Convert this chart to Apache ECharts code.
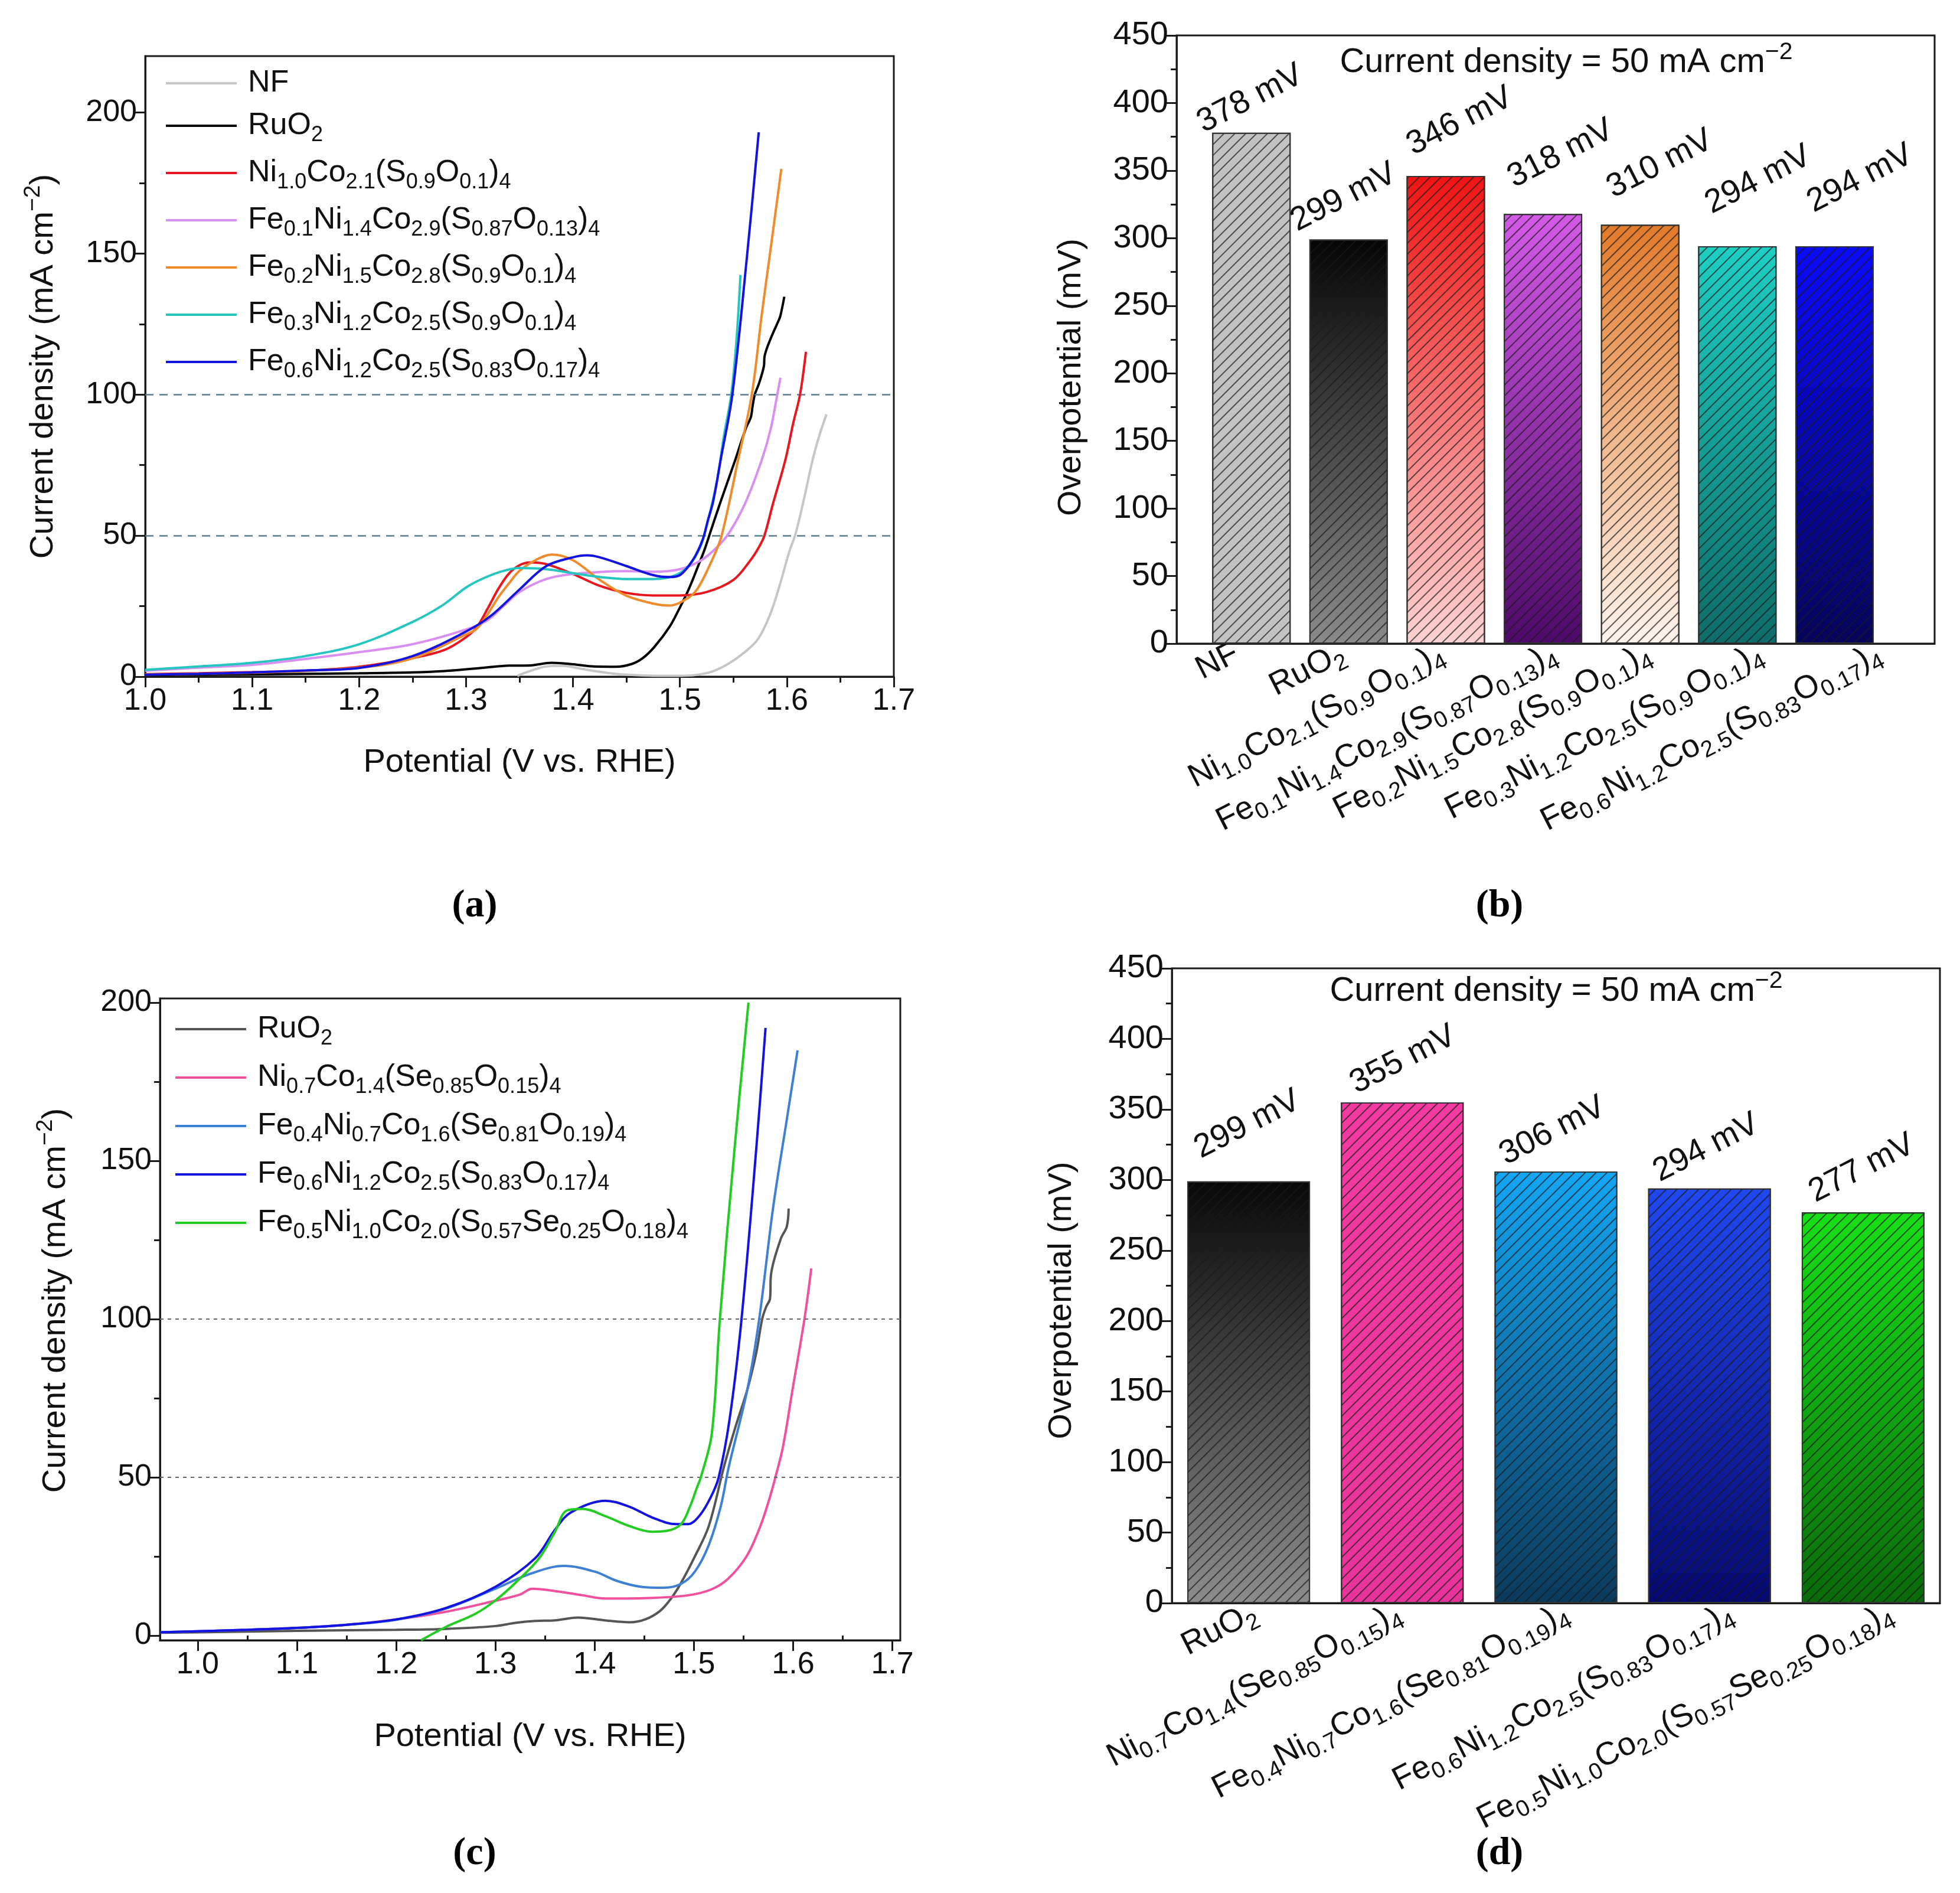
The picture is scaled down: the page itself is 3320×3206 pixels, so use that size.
<!DOCTYPE html>
<html><head><meta charset="utf-8">
<script src="https://cdn.jsdelivr.net/npm/echarts@6/dist/echarts.min.js"></script>
<style>html,body{margin:0;padding:0;background:#fff}#c{width:3320px;height:3206px}</style>
</head><body><div id="c"></div>
<script>
const FONT = 'Liberation Sans';

// ---------- Panel (a) : LSV curves ----------
const aNames = ['NF','RuO_2','Ni_1.0Co_2.1(S_0.9O_0.1)_4','Fe_0.1Ni_1.4Co_2.9(S_0.87O_0.13)_4','Fe_0.2Ni_1.5Co_2.8(S_0.9O_0.1)_4','Fe_0.3Ni_1.2Co_2.5(S_0.9O_0.1)_4','Fe_0.6Ni_1.2Co_2.5(S_0.83O_0.17)_4'];
const aColors = ['#c6c6c6','#000000','#e8161e','#d98ef2','#f08b2c','#26c6c0','#1414e0'];
const aNF = [[1.348,0.3],[1.36,2.0],[1.375,3.6],[1.39,3.8],[1.405,3.0],[1.42,2.0],[1.44,1.0],[1.46,0.5],[1.48,0.3],[1.50,0.3],[1.515,0.6],[1.53,1.8],[1.545,4.5],[1.56,8.5],[1.573,13.3],[1.584,21.7],[1.593,32.0],[1.602,44.0],[1.608,50.5],[1.615,61.3],[1.624,76.7],[1.63,85.0],[1.637,93.0]];
const aRuO2 = [[1.0,0.6],[1.05,0.7],[1.1,0.8],[1.15,1.0],[1.2,1.2],[1.25,1.5],[1.28,2.0],[1.30,2.6],[1.32,3.3],[1.34,3.9],[1.36,4.0],[1.38,4.9],[1.40,4.4],[1.42,3.6],[1.44,3.5],[1.455,4.5],[1.465,6.5],[1.476,10.5],[1.49,17.5],[1.499,23.8],[1.508,30.8],[1.517,39.2],[1.523,45.0],[1.530,53.0],[1.538,62.0],[1.5516,76.7],[1.5616,88.0],[1.5663,92.0],[1.5680,96.0],[1.5700,100.0],[1.5740,104.0],[1.5785,110.0],[1.5792,113.7],[1.5850,120.0],[1.5920,126.0],[1.5940,128.0],[1.5976,134.7]];
const aNiCo = [[1.0,0.9],[1.05,1.2],[1.1,1.6],[1.15,2.1],[1.2,3.5],[1.25,6.6],[1.28,9.5],[1.30,14.0],[1.31,17.5],[1.32,24.0],[1.33,31.0],[1.34,36.5],[1.35,39.5],[1.36,40.5],[1.375,39.9],[1.40,36.4],[1.425,32.2],[1.45,29.7],[1.475,28.8],[1.50,28.8],[1.525,30.0],[1.55,34.3],[1.566,41.3],[1.574,46.0],[1.579,50.0],[1.587,61.3],[1.5985,76.7],[1.606,90.0],[1.6123,100.0],[1.6178,115.2]];
const aFe01 = [[1.0,2.1],[1.05,3.2],[1.1,4.2],[1.15,6.3],[1.2,8.7],[1.25,11.5],[1.30,16.7],[1.32,20.0],[1.335,25.0],[1.35,30.0],[1.375,34.6],[1.40,36.4],[1.425,37.1],[1.45,37.4],[1.475,37.2],[1.50,38.1],[1.52,41.3],[1.535,46.0],[1.546,51.0],[1.5608,61.3],[1.5764,76.7],[1.585,88.0],[1.591,100.0],[1.594,106.0]];
const aFe02 = [[1.0,0.8],[1.1,1.4],[1.2,3.2],[1.25,6.5],[1.30,15.0],[1.31,17.0],[1.32,22.0],[1.33,28.0],[1.34,33.0],[1.35,37.5],[1.365,41.3],[1.38,43.3],[1.40,41.3],[1.425,34.3],[1.45,28.7],[1.475,25.9],[1.49,25.2],[1.508,28.0],[1.517,31.5],[1.53,41.3],[1.539,50.0],[1.5543,76.7],[1.5672,100.0],[1.5764,128.0],[1.586,155.0],[1.5948,180.0]];
const aFe03 = [[1.0,2.4],[1.05,3.6],[1.1,4.9],[1.15,7.3],[1.2,11.5],[1.25,19.4],[1.278,25.3],[1.30,31.6],[1.317,35.0],[1.335,37.5],[1.35,38.5],[1.375,38.1],[1.40,36.7],[1.425,35.3],[1.45,34.6],[1.475,34.6],[1.494,35.7],[1.508,39.2],[1.519,46.0],[1.526,55.0],[1.535,70.0],[1.541,85.0],[1.548,100.0],[1.553,120.0],[1.5566,142.4]];
const aFe06 = [[1.0,0.7],[1.05,1.0],[1.1,1.5],[1.15,2.2],[1.2,3.1],[1.25,7.3],[1.30,16.0],[1.323,21.5],[1.35,30.9],[1.375,39.2],[1.40,42.3],[1.413,43.0],[1.425,42.3],[1.45,39.2],[1.475,36.0],[1.49,35.3],[1.50,36.0],[1.512,41.3],[1.521,48.3],[1.526,55.2],[1.531,62.0],[1.538,76.7],[1.549,100.0],[1.5626,148.6],[1.5737,193.0]];
const aCurves = [aNF,aRuO2,aNiCo,aFe01,aFe02,aFe03,aFe06];
const aXTicks = [1.0,1.1,1.2,1.3,1.4,1.5,1.6,1.7];
const aXMinor = [1.05,1.15,1.25,1.35,1.45,1.55,1.65];
const aYTicks = [0,50,100,150,200];
const aYMinor = [25,75,125,175];
const aRefLines = [50,100];

// ---------- Panel (b) : overpotential bars ----------
const bNames = ['NF','RuO_2','Ni_1.0Co_2.1(S_0.9O_0.1)_4','Fe_0.1Ni_1.4Co_2.9(S_0.87O_0.13)_4','Fe_0.2Ni_1.5Co_2.8(S_0.9O_0.1)_4','Fe_0.3Ni_1.2Co_2.5(S_0.9O_0.1)_4','Fe_0.6Ni_1.2Co_2.5(S_0.83O_0.17)_4'];
const bPositions = [1,2,3,4,5,6,7];
const bValues = [378,299,346,318,310,294,294];
const bLabelPos = [0.85,1.94,2.96,4.12,5.09,6.24,7.46];   // where the category tick labels sit
const bTop = ['#c2c2c2','#050505','#f01414','#d45ae8','#e27a2a','#1ecfc4','#0a0aff'];
const bBottom = ['#c2c2c2','#8a8a8a','#fcd2d2','#4e0a68','#fdf3ec','#0e6c68','#05055a'];
// value-label placement (style only)
const bLabelDist = [27,44,49,55,54,63,61];
const bLabelOff = [12,5,41,48,52,54,63];

// ---------- Panel (c) : LSV curves ----------
const cNames = ['RuO_2','Ni_0.7Co_1.4(Se_0.85O_0.15)_4','Fe_0.4Ni_0.7Co_1.6(Se_0.81O_0.19)_4','Fe_0.6Ni_1.2Co_2.5(S_0.83O_0.17)_4','Fe_0.5Ni_1.0Co_2.0(S_0.57Se_0.25O_0.18)_4'];
const cColors = ['#555555','#f0509c','#3d80d4','#1414e0','#22cc22'];
const cRuO2 = [[0.962,0.9],[1.0,1.0],[1.1,1.5],[1.2,1.8],[1.25,2.1],[1.30,3.0],[1.32,4.0],[1.34,4.6],[1.36,4.8],[1.383,5.7],[1.41,4.8],[1.435,4.2],[1.451,5.1],[1.466,7.8],[1.477,11.7],[1.487,16.6],[1.501,25.0],[1.515,34.6],[1.5302,53.2],[1.541,65.0],[1.554,77.9],[1.5629,89.4],[1.5688,100.0],[1.5730,104.0],[1.5767,106.4],[1.5777,114.0],[1.5876,125.4],[1.5936,129.2],[1.5955,134.9]];
const cNiCoSe = [[0.962,1.0],[1.05,1.8],[1.1,2.4],[1.15,3.4],[1.2,5.1],[1.25,7.5],[1.30,11.0],[1.325,13.0],[1.337,14.8],[1.364,13.9],[1.388,12.7],[1.411,11.7],[1.458,11.9],[1.494,12.7],[1.517,14.5],[1.534,17.8],[1.553,25.0],[1.567,34.6],[1.576,43.1],[1.583,51.0],[1.59,60.0],[1.5995,77.9],[1.6114,100.0],[1.6183,116.0]];
const cFe04 = [[0.962,1.0],[1.05,1.8],[1.1,2.4],[1.15,3.4],[1.2,5.0],[1.25,8.5],[1.30,14.8],[1.336,19.6],[1.369,22.0],[1.40,20.2],[1.423,17.2],[1.447,15.4],[1.47,15.1],[1.487,16.3],[1.501,20.2],[1.515,28.6],[1.527,40.7],[1.5351,53.2],[1.554,77.9],[1.5658,100.0],[1.5797,134.9],[1.5936,163.0],[1.6045,184.9]];
const cFe06 = [[0.962,1.0],[1.05,1.8],[1.1,2.4],[1.15,3.4],[1.2,5.1],[1.25,8.7],[1.30,15.4],[1.34,24.4],[1.36,33.4],[1.376,38.9],[1.411,42.6],[1.435,40.7],[1.458,37.3],[1.482,35.2],[1.494,35.2],[1.506,38.0],[1.517,43.7],[1.525,50.0],[1.536,68.4],[1.548,100.0],[1.5629,154.0],[1.5722,192.0]];
const cFe05 = [[1.225,-1.5],[1.25,2.7],[1.28,6.9],[1.30,11.1],[1.32,16.6],[1.344,24.4],[1.36,32.8],[1.372,39.5],[1.388,40.0],[1.411,37.7],[1.435,34.6],[1.458,32.8],[1.473,33.1],[1.487,35.2],[1.496,40.7],[1.503,46.7],[1.507,50.0],[1.518,63.7],[1.5262,100.0],[1.541,154.0],[1.555,200.0]];
const cCurves = [cRuO2,cNiCoSe,cFe04,cFe06,cFe05];
const cXTicks = [1.0,1.1,1.2,1.3,1.4,1.5,1.6,1.7];
const cXMinor = [1.05,1.15,1.25,1.35,1.45,1.55,1.65];
const cYTicks = [0,50,100,150,200];
const cYMinor = [25,75,125,175];
const cRefLines = [50,100];

// ---------- Panel (d) : overpotential bars ----------
const dNames = ['RuO_2','Ni_0.7Co_1.4(Se_0.85O_0.15)_4','Fe_0.4Ni_0.7Co_1.6(Se_0.81O_0.19)_4','Fe_0.6Ni_1.2Co_2.5(S_0.83O_0.17)_4','Fe_0.5Ni_1.0Co_2.0(S_0.57Se_0.25O_0.18)_4'];
const dPositions = [1,2,3,4,5];
const dValues = [299,355,306,294,277];
const dLabelPos = [1.04,1.98,3.07,4.14,5.18];
const dTop = ['#080808','#f23aa0','#14a6f4','#2048f0','#18e018'];
const dBottom = ['#8c8c8c','#e8349a','#0b3a5c','#050870','#0a6a0a'];
const dLabelDist = [66,40,40,40,44];
const dLabelOff = [12,16,8,8,12];

// ---------- helpers ----------
function toRich(str){
  let out='', last=0, mm; const re=/_([0-9.]+)|\^\{([^}]*)\}/g;
  while((mm=re.exec(str))){
    if(mm.index>last) out+='{m|'+str.slice(last,mm.index)+'}';
    if(mm[1]!==undefined) out+='{s|'+mm[1]+'}'; else out+='{p|'+mm[2]+'}';
    last=re.lastIndex;
  }
  if(last<str.length) out+='{m|'+str.slice(last)+'}';
  return out;
}
function richSet(F){
  return {
    m:{fontSize:F,lineHeight:Math.round(F*1.3),fontFamily:FONT,color:'#111',verticalAlign:'middle'},
    s:{fontSize:Math.round(F*0.7),lineHeight:Math.round(F*0.7),fontFamily:FONT,color:'#111',verticalAlign:'bottom'},
    p:{fontSize:Math.round(F*0.7),lineHeight:Math.round(F*0.7),fontFamily:FONT,color:'#111',verticalAlign:'top'},
    sp:{width:14}
  };
}
function nearestIdx(arr,v){let b=0;arr.forEach((p,i)=>{if(Math.abs(p-v)<Math.abs(arr[b]-v))b=i;});return b;}
const AXC = '#1a1a1a';
function lineAxisX(grid,min,max,ticks,name,gap){
  return {type:'value',gridIndex:grid,min:min,max:max,position:'bottom',
    axisLine:{show:true,onZero:false,lineStyle:{color:AXC,width:3}},
    axisTick:{show:true,customValues:ticks,length:18,lineStyle:{color:AXC,width:3}},
    axisLabel:{customValues:ticks,formatter:v=>v.toFixed(1),fontSize:52,fontFamily:FONT,color:'#111',margin:16},
    splitLine:{show:false},name:name,nameLocation:'middle',nameGap:gap,
    nameTextStyle:{fontSize:56,fontFamily:FONT,color:'#111'}};
}
function minorAxisX(grid,min,max,ticks){
  return {type:'value',gridIndex:grid,min:min,max:max,position:'bottom',
    axisLine:{show:false},axisTick:{show:true,customValues:ticks,length:10,lineStyle:{color:AXC,width:3}},
    axisLabel:{show:false},splitLine:{show:false}};
}
function lineAxisY(grid,min,max,ticks,name,gap,pad){
  return {type:'value',gridIndex:grid,min:min,max:max,position:'left',
    axisLine:{show:true,onZero:false,lineStyle:{color:AXC,width:3}},
    axisTick:{show:true,customValues:ticks,length:18,lineStyle:{color:AXC,width:3}},
    axisLabel:{customValues:ticks,fontSize:52,fontFamily:FONT,color:'#111',margin:14},
    splitLine:{show:false},name:toRich(name),nameLocation:'middle',nameGap:gap,
    nameTextStyle:{rich:richSet(56),padding:pad}};
}
function minorAxisY(grid,min,max,ticks){
  return {type:'value',gridIndex:grid,min:min,max:max,position:'left',
    axisLine:{show:false},axisTick:{show:true,customValues:ticks,length:10,lineStyle:{color:AXC,width:3}},
    axisLabel:{show:false},splitLine:{show:false}};
}
function barAxisX(grid,min,max,pos,names){
  return {type:'value',gridIndex:grid,min:min,max:max,axisLine:{lineStyle:{color:AXC,width:3}},axisTick:{show:false},
    axisLabel:{customValues:pos,rotate:27,margin:14,formatter:v=>toRich(names[nearestIdx(pos,v)]),rich:richSet(55)},
    splitLine:{show:false}};
}
function barAxisY(grid,gap,pad){
  return {type:'value',gridIndex:grid,min:0,max:450,interval:50,position:'left',
    axisLine:{show:true,lineStyle:{color:AXC,width:3}},
    axisTick:{show:true,length:18,lineStyle:{color:AXC,width:3}},
    minorTick:{show:true,splitNumber:2,length:10,lineStyle:{color:AXC,width:3}},
    axisLabel:{fontSize:56,fontFamily:FONT,color:'#111',margin:14},
    splitLine:{show:false},minorSplitLine:{show:false},
    name:'Overpotential (mV)',nameLocation:'middle',nameGap:gap,
    nameTextStyle:{fontSize:56,fontFamily:FONT,color:'#111',padding:pad}};
}
function grad(t,b){return {type:'linear',x:0,y:0,x2:0,y2:1,colorStops:[{offset:0,color:t},{offset:1,color:b}]};}
const hatch = {symbol:'rect',symbolSize:1,dashArrayX:[1,0],dashArrayY:[2,11],rotation:-Math.PI/4,color:'rgba(25,25,25,0.7)'};
const barLabel = {show:true,position:'top',rotate:27,fontSize:56,fontFamily:FONT,color:'#111',
  formatter:p=>(Array.isArray(p.value)?p.value[1]:p.value)+' mV'};

const series = [];
aCurves.forEach((d,i)=>{
  const s = {name:'a'+i,type:'line',xAxisIndex:0,yAxisIndex:0,data:d,symbol:'none',showSymbol:false,smooth:0.35,
    lineStyle:{width:4,color:aColors[i]},itemStyle:{color:aColors[i]},z:3+i};
  if(i===0){ s.markLine={silent:true,symbol:'none',label:{show:false},lineStyle:{type:[14,10],color:'#5b7f8f',width:2.5},
    data:aRefLines.map(v=>({yAxis:v}))}; }
  series.push(s);
});
cCurves.forEach((d,i)=>{
  const s = {name:'c'+i,type:'line',xAxisIndex:3,yAxisIndex:3,data:d,symbol:'none',showSymbol:false,smooth:0.35,
    lineStyle:{width:4,color:cColors[i]},itemStyle:{color:cColors[i]},z:3+i};
  if(i===0){ s.markLine={silent:true,symbol:'none',label:{show:false},lineStyle:{type:[6,7],color:'#666',width:2},
    data:cRefLines.map(v=>({yAxis:v}))}; }
  series.push(s);
});
series.push({name:'bBars',type:'bar',xAxisIndex:2,yAxisIndex:2,barWidth:133,
  data:bValues.map((v,i)=>({value:[bPositions[i],v],itemStyle:{color:grad(bTop[i],bBottom[i])},
    label:{distance:bLabelDist[i],offset:[bLabelOff[i],0]}})),
  itemStyle:{borderColor:'#333',borderWidth:2,decal:hatch},label:barLabel});
series.push({name:'dBars',type:'bar',xAxisIndex:5,yAxisIndex:5,barWidth:208,
  data:dValues.map((v,i)=>({value:[dPositions[i],v],itemStyle:{color:grad(dTop[i],dBottom[i])},
    label:{distance:dLabelDist[i],offset:[dLabelOff[i],0]}})),
  itemStyle:{borderColor:'#333',borderWidth:2,decal:hatch},label:barLabel});

function legendFor(prefix,names,left,top,gap){
  return {orient:'vertical',left:left,top:top,itemWidth:120,itemHeight:14,itemGap:gap,
    data:names.map((n,i)=>prefix+i),
    itemStyle:{opacity:0},lineStyle:{width:4},
    formatter:nm=>'{sp| }'+toRich(names[+nm.slice(1)]),
    textStyle:{rich:richSet(52)}};
}
function gText(x,y,txt,font){
  return {type:'text',x:x,y:y,style:{text:txt,font:font,fill:'#000',textAlign:'center',textVerticalAlign:'middle',align:'center',verticalAlign:'middle'}};
}
function gRich(x,y,txt,F){
  return {type:'text',x:x,y:y,style:{text:toRich(txt),rich:richSet(F),fill:'#111',textAlign:'center',textVerticalAlign:'middle',align:'center',verticalAlign:'middle'}};
}

const option = {
  animation:false,
  backgroundColor:'#ffffff',
  grid:[
    {left:246,top:95,width:1268,height:1051,show:true,borderColor:AXC,borderWidth:3},
    {left:1993,top:60,width:1284,height:1030,show:true,borderColor:AXC,borderWidth:3},
    {left:271,top:1691,width:1254,height:1087,show:true,borderColor:AXC,borderWidth:3},
    {left:1985,top:1640,width:1301,height:1075,show:true,borderColor:AXC,borderWidth:3}
  ],
  xAxis:[
    lineAxisX(0,1.0,1.7,aXTicks,'Potential (V vs. RHE)',118),
    minorAxisX(0,1.0,1.7,aXMinor),
    barAxisX(1,0.23,8.03,bLabelPos,bNames),
    lineAxisX(2,0.962,1.708,cXTicks,'Potential (V vs. RHE)',136),
    minorAxisX(2,0.962,1.708,cXMinor),
    barAxisX(3,0.5,5.5,dLabelPos,dNames)
  ],
  yAxis:[
    lineAxisY(0,0,220,aYTicks,'Current density (mA cm^{−2})',136,[0,0,0,0]),
    minorAxisY(0,0,220,aYMinor),
    barAxisY(1,150,[0,128,0,0]),
    lineAxisY(2,-1.5,201.3,cYTicks,'Current density (mA cm^{−2})',140,[0,0,0,64]),
    minorAxisY(2,-1.5,201.3,cYMinor),
    barAxisY(3,158,[0,50,0,0])
  ],
  legend:[
    legendFor('a',aNames,274,110,20),
    legendFor('c',cNames,290,1712,22)
  ],
  graphic:[
    gRich(2653,106,'Current density = 50 mA cm^{−2}',58),
    gRich(2636,1679,'Current density = 50 mA cm^{−2}',58),
    gText(804,1535,'(a)','bold 66px "Liberation Serif"'),
    gText(2540,1535,'(b)','bold 66px "Liberation Serif"'),
    gText(804,3140,'(c)','bold 66px "Liberation Serif"'),
    gText(2540,3140,'(d)','bold 66px "Liberation Serif"')
  ],
  series:series
};
const chart = echarts.init(document.getElementById('c'),null,{renderer:'canvas'});
chart.setOption(option);
</script></body></html>
